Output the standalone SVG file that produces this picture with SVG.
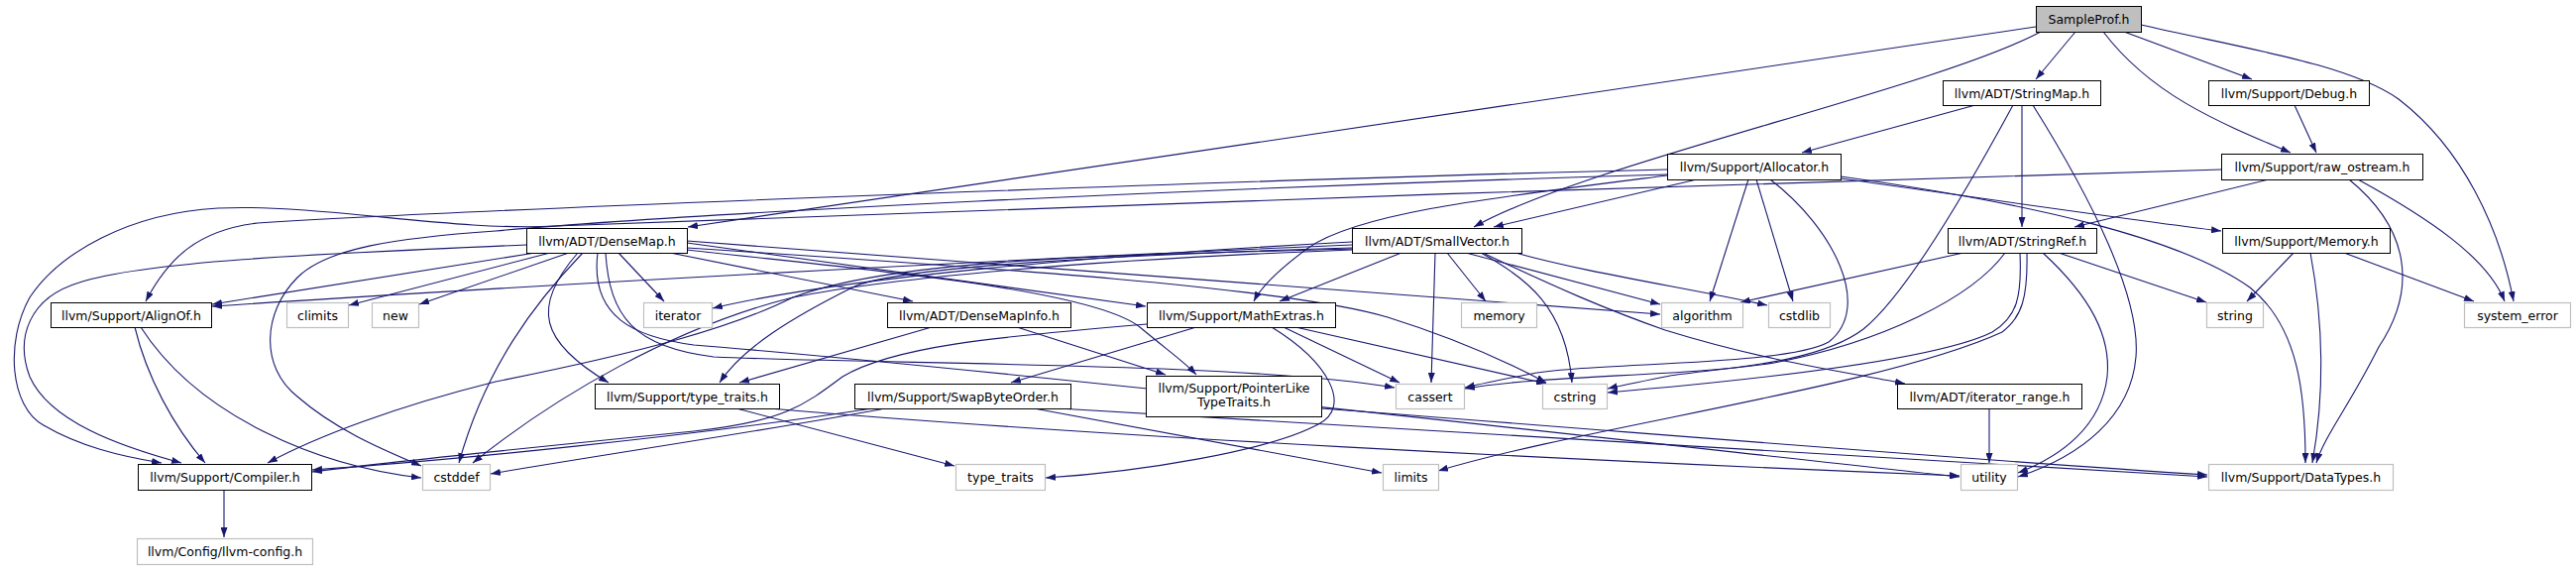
<svg xmlns="http://www.w3.org/2000/svg" width="2599" height="575" viewBox="0 0 2599 575">
<style>
.e path{fill:none;stroke:#191970;stroke-width:1.1;marker-end:url(#a)}
.n rect{fill:#fff;stroke:#000;stroke-width:1}
.x rect{fill:#fff;stroke:#bfbfbf;stroke-width:1.2}
.r rect{fill:#bfbfbf;stroke:#000;stroke-width:1}
text{font-family:"DejaVu Sans","Liberation Sans",sans-serif;font-size:12.5px;fill:#000;text-anchor:middle}
</style>
<defs>
<marker id="a" markerWidth="10" markerHeight="7" refX="10" refY="3.5" orient="auto" markerUnits="userSpaceOnUse"><path d="M0,0L10,3.5L0,7z" fill="#191970"/></marker>
</defs>
<rect width="2599" height="575" fill="#fff"/>
<g id="edges" class="e">
<path d="M2054,27 L694,229"/>
<path d="M2059,32 C1950,90 1600,165 1487,229"/>
<path d="M2094,32 L2054,80"/>
<path d="M2143,32 L2272,80"/>
<path d="M2122,32 C2170,95 2235,122 2311,154"/>
<path d="M2160,25 C2270,50 2370,65 2420,100 C2485,150 2522,230 2536,304"/>
<path d="M2315,106 L2337,154"/>
<path d="M2289,181 L2093,229"/>
<path d="M2241,171 C1800,185 900,212 560,228 C460,234 320,205 220,210 C130,215 60,255 30,300 C5,345 10,410 44,429 C80,450 120,460 163,467"/>
<path d="M2370,181 C2430,230 2440,290 2400,350 C2370,410 2345,440 2337,467"/>
<path d="M2379,181 C2450,220 2510,260 2527,304"/>
<path d="M2314,255 L2267,304"/>
<path d="M2331,255 C2345,330 2345,400 2333,467"/>
<path d="M2365,255 L2496,304"/>
<path d="M1993,106 L1818,154"/>
<path d="M2040,106 L2040,229"/>
<path d="M2031,106 C1980,200 1920,300 1880,332 C1830,370 1720,372 1680,380 C1650,386 1635,389 1622,392"/>
<path d="M2051,106 C2110,200 2160,300 2155,360 C2150,420 2100,460 2036,481"/>
<path d="M1981,255 L1756,305"/>
<path d="M2077,255 L2226,305"/>
<path d="M2023,255 C1990,300 1900,345 1790,366 C1700,380 1560,378 1478,392"/>
<path d="M2038,255 C2040,300 2035,320 2010,335 C1950,365 1750,385 1622,396"/>
<path d="M2045,255 C2046,300 2040,320 2020,335 C1900,390 1600,430 1451,475"/>
<path d="M2061,255 C2110,300 2130,340 2126,380 C2120,430 2080,460 2036,477"/>
<path d="M1712,181 L1507,229"/>
<path d="M1764,181 L1725,304"/>
<path d="M1772,181 L1809,304"/>
<path d="M1786,181 C1850,230 1890,310 1845,345 C1800,370 1600,365 1540,378 C1510,384 1490,388 1478,391"/>
<path d="M1682,177 C1500,200 1370,215 1320,250 C1290,272 1272,290 1265,304"/>
<path d="M1682,171 C1300,180 500,210 260,225 C200,232 170,260 147,304"/>
<path d="M1682,176 C1200,190 700,215 500,233 C400,240 330,250 300,280 C265,315 262,370 300,400 C340,435 390,455 425,470"/>
<path d="M1857,178 C2050,205 2200,240 2270,290 C2320,330 2326,400 2326,467"/>
<path d="M1857,180 C2000,200 2150,222 2241,233"/>
<path d="M540,255 L214,307"/>
<path d="M555,255 L352,308"/>
<path d="M574,255 L423,307"/>
<path d="M531,247 C350,255 150,262 80,285 C30,300 15,340 30,380 C50,425 120,450 183,467"/>
<path d="M624,255 L670,304"/>
<path d="M588,255 C540,305 490,370 463,467"/>
<path d="M583,255 C535,310 545,345 614,386"/>
<path d="M603,255 C595,320 640,340 700,348 C1000,372 1600,440 1977,481"/>
<path d="M693,252 C850,270 1100,290 1150,330 C1180,355 1195,365 1207,378"/>
<path d="M676,255 L921,304"/>
<path d="M693,245 L1156,309"/>
<path d="M693,243 L1675,317"/>
<path d="M611,255 C615,320 640,350 720,360 C900,368 1250,365 1407,391"/>
<path d="M693,250 C1000,270 1300,290 1400,320 C1480,345 1530,370 1560,386"/>
<path d="M1414,255 L1291,304"/>
<path d="M1448,255 L1444,386"/>
<path d="M1460,255 L1499,304"/>
<path d="M1494,255 C1540,280 1580,310 1586,386"/>
<path d="M1479,255 L1675,307"/>
<path d="M1529,255 C1600,275 1700,290 1783,308"/>
<path d="M1498,256 C1570,290 1620,312 1680,333 C1780,364 1860,375 1922,387"/>
<path d="M1364,244 C1100,258 850,280 719,311"/>
<path d="M1364,247 C1000,262 500,290 214,309"/>
<path d="M1364,250 C1100,258 900,270 860,290 C800,320 750,350 726,386"/>
<path d="M1364,252 C1100,262 900,280 800,300 C680,330 560,400 477,467"/>
<path d="M1364,251 C1100,258 900,262 800,300 C740,330 650,355 500,385 C400,410 320,440 270,467"/>
<path d="M1207,330 L1020,386"/>
<path d="M1157,327 C1000,340 900,350 850,380 C810,410 790,425 700,435 C550,450 400,465 315,476"/>
<path d="M1283,330 C1340,365 1365,410 1330,428 C1280,455 1150,476 1055,482"/>
<path d="M1295,330 L1412,386"/>
<path d="M1307,330 L1560,387"/>
<path d="M1043,412 L1394,477"/>
<path d="M1068,412 C1500,440 1900,462 2227,481"/>
<path d="M880,412 C700,440 450,465 315,474"/>
<path d="M893,412 C800,430 600,460 495,478"/>
<path d="M1333,412 C1700,440 2000,465 2227,479"/>
<path d="M1026,330 L1176,378"/>
<path d="M940,330 L746,386"/>
<path d="M743,412 L963,470"/>
<path d="M776,412 C1100,440 1600,465 1977,480"/>
<path d="M136,330 C148,380 175,430 207,467"/>
<path d="M142,330 C200,420 320,470 425,482"/>
<path d="M226,494 L226,542"/>
<path d="M2007,412 L2007,467"/>
</g>
<g id="n0" class="r"><rect x="2054.5" y="6.5" width="106" height="26"/><text x="2107.5" y="24">SampleProf.h</text></g>
<g id="n1" class="n"><rect x="1960.5" y="81.5" width="159" height="25"/><text x="2040" y="98.5">llvm/ADT/StringMap.h</text></g>
<g id="n2" class="n"><rect x="2228.5" y="81.5" width="162" height="25"/><text x="2309.5" y="98.5">llvm/Support/Debug.h</text></g>
<g id="n3" class="n"><rect x="1682.5" y="155.5" width="175" height="26"/><text x="1770" y="173">llvm/Support/Allocator.h</text></g>
<g id="n4" class="n"><rect x="2241.5" y="155.5" width="203" height="26"/><text x="2343" y="173">llvm/Support/raw_ostream.h</text></g>
<g id="n5" class="n"><rect x="531.5" y="230.5" width="162" height="25"/><text x="612.5" y="247.5">llvm/ADT/DenseMap.h</text></g>
<g id="n6" class="n"><rect x="1364.5" y="230.5" width="171" height="25"/><text x="1450" y="247.5">llvm/ADT/SmallVector.h</text></g>
<g id="n7" class="n"><rect x="1965.5" y="230.5" width="150" height="25"/><text x="2040.5" y="247.5">llvm/ADT/StringRef.h</text></g>
<g id="n8" class="n"><rect x="2242.5" y="230.5" width="169" height="25"/><text x="2327" y="247.5">llvm/Support/Memory.h</text></g>
<g id="n9" class="n"><rect x="51.5" y="305.5" width="162" height="25"/><text x="132.5" y="322.5">llvm/Support/AlignOf.h</text></g>
<g id="n10" class="x"><rect x="289.5" y="305.5" width="62" height="25"/><text x="320.5" y="322.5">climits</text></g>
<g id="n11" class="x"><rect x="375.5" y="305.5" width="47" height="25"/><text x="399" y="322.5">new</text></g>
<g id="n12" class="x"><rect x="649.5" y="305.5" width="69" height="25"/><text x="684" y="322.5">iterator</text></g>
<g id="n13" class="n"><rect x="895.5" y="305.5" width="185" height="25"/><text x="988" y="322.5">llvm/ADT/DenseMapInfo.h</text></g>
<g id="n14" class="n"><rect x="1157.5" y="305.5" width="190" height="25"/><text x="1252.5" y="322.5">llvm/Support/MathExtras.h</text></g>
<g id="n15" class="x"><rect x="1474.5" y="305.5" width="76" height="25"/><text x="1512.5" y="322.5">memory</text></g>
<g id="n16" class="x"><rect x="1676.5" y="305.5" width="82" height="25"/><text x="1717.5" y="322.5">algorithm</text></g>
<g id="n17" class="x"><rect x="1784.5" y="305.5" width="62" height="25"/><text x="1815.5" y="322.5">cstdlib</text></g>
<g id="n18" class="x"><rect x="2226.5" y="305.5" width="57" height="25"/><text x="2255" y="322.5">string</text></g>
<g id="n19" class="x"><rect x="2486.5" y="305.5" width="107" height="25"/><text x="2540" y="322.5">system_error</text></g>
<g id="n20" class="n"><rect x="600.5" y="387.5" width="186" height="25"/><text x="693.5" y="404.5">llvm/Support/type_traits.h</text></g>
<g id="n21" class="n"><rect x="862.5" y="387.5" width="218" height="25"/><text x="971.5" y="404.5">llvm/Support/SwapByteOrder.h</text></g>
<g id="n22" class="n"><rect x="1156.5" y="379.5" width="177" height="41"/><text x="1245" y="395.5">llvm/Support/PointerLike</text><text x="1245" y="410">TypeTraits.h</text></g>
<g id="n23" class="x"><rect x="1408.5" y="387.5" width="69" height="25"/><text x="1443" y="404.5">cassert</text></g>
<g id="n24" class="x"><rect x="1556.5" y="387.5" width="65" height="25"/><text x="1589" y="404.5">cstring</text></g>
<g id="n25" class="n"><rect x="1914.5" y="387.5" width="186" height="25"/><text x="2007.5" y="404.5">llvm/ADT/iterator_range.h</text></g>
<g id="n26" class="n"><rect x="139.5" y="468.5" width="175" height="26"/><text x="227" y="486">llvm/Support/Compiler.h</text></g>
<g id="n27" class="x"><rect x="426.5" y="468.5" width="68" height="26"/><text x="460.5" y="486">cstddef</text></g>
<g id="n28" class="x"><rect x="964.5" y="468.5" width="90" height="26"/><text x="1009.5" y="486">type_traits</text></g>
<g id="n29" class="x"><rect x="1395.5" y="468.5" width="56" height="26"/><text x="1423.5" y="486">limits</text></g>
<g id="n30" class="x"><rect x="1978.5" y="468.5" width="57" height="26"/><text x="2007" y="486">utility</text></g>
<g id="n31" class="x"><rect x="2228.5" y="468.5" width="186" height="26"/><text x="2321.5" y="486">llvm/Support/DataTypes.h</text></g>
<g id="n32" class="x"><rect x="138.5" y="543.5" width="177" height="26"/><text x="227" y="561">llvm/Config/llvm-config.h</text></g>
</svg>
